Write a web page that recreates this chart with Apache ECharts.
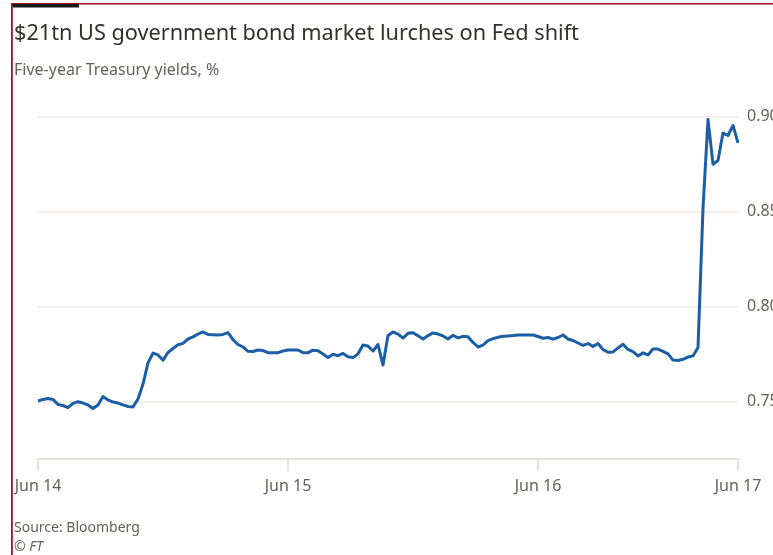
<!DOCTYPE html>
<html>
<head>
<meta charset="utf-8">
<script src="https://cdn.jsdelivr.net/npm/echarts@6/dist/echarts.min.js"></script>
<style>
html,body{margin:0;padding:0;background:#fff;}
#chart{width:773px;height:555px;}
</style>
</head>
<body>
<div id="chart"></div>
<script>
// Five-year Treasury yields, %, sampled evenly from Jun 14 to Jun 17
const yields = [
  0.7504,0.7512,0.7517,0.7512,0.7485,0.7480,0.7469,0.7491,0.7500,0.7493,
  0.7483,0.7464,0.7483,0.7527,0.7509,0.7498,0.7493,0.7483,0.7475,0.7472,
  0.7514,0.7593,0.7704,0.7756,0.7746,0.7719,0.7759,0.7780,0.7800,0.7807,
  0.7830,0.7841,0.7856,0.7867,0.7854,0.7853,0.7851,0.7854,0.7864,0.7827,
  0.7801,0.7788,0.7765,0.7764,0.7772,0.7769,0.7758,0.7758,0.7758,0.7767,
  0.7772,0.7772,0.7772,0.7758,0.7758,0.7771,0.7768,0.7751,0.7733,0.7750,
  0.7742,0.7754,0.7737,0.7732,0.7752,0.7798,0.7793,0.7767,0.7801,0.7693,
  0.7848,0.7867,0.7856,0.7835,0.7860,0.7863,0.7847,0.7830,0.7848,0.7862,
  0.7856,0.7846,0.7830,0.7850,0.7836,0.7844,0.7842,0.7812,0.7788,0.7798,
  0.7821,0.7832,0.7839,0.7844,0.7846,0.7848,0.7851,0.7851,0.7851,0.7851,
  0.7843,0.7834,0.7838,0.7829,0.7838,0.7851,0.7830,0.7822,0.7809,0.7796,
  0.7806,0.7791,0.7806,0.7775,0.7760,0.7762,0.7783,0.7802,0.7775,0.7764,
  0.7741,0.7757,0.7746,0.7777,0.7777,0.7765,0.7752,0.7719,0.7717,0.7723,
  0.7735,0.7741,0.7785,0.8519,0.8985,0.8750,0.8769,0.8914,0.8901,0.8954,
  0.8862
];
// Tick labels and the sample index at which each sits
const tickLabels = ["Jun 14", "Jun 15", "Jun 16", "Jun 17"];
const tickIndex = [0, 50, 100, 140];
const yTicks = [0.75, 0.80, 0.85, 0.90];

const categories = yields.map((_, i) => i);
const labelAt = {};
tickIndex.forEach((t, k) => { labelAt[t] = tickLabels[k]; });

const chart = echarts.init(document.getElementById('chart'), null, {renderer: 'canvas'});
const gray = '#66605c';
const fontFam = '"Noto Sans", sans-serif';

chart.setOption({
  backgroundColor: '#ffffff',
  animation: false,
  title: [
    {
      text: '$21tn US government bond market lurches on Fed shift',
      left: 14, top: 23, padding: 0,
      textStyle: {fontFamily: fontFam, fontSize: 21.7, fontWeight: 'normal', color: '#33302e'}
    },
    {
      text: 'Five-year Treasury yields, %',
      left: 14, top: 62, padding: 0,
      textStyle: {fontFamily: fontFam, fontSize: 16, fontWeight: 'normal', color: gray}
    },
    {
      text: 'Source: Bloomberg',
      left: 14, top: 521, padding: 0,
      textStyle: {fontFamily: fontFam, fontSize: 14, fontWeight: 'normal', color: gray}
    },
    {
      text: '© FT',
      left: 14, top: 540, padding: 0,
      textStyle: {fontFamily: fontFam, fontSize: 14, fontWeight: 'normal', fontStyle: 'italic', color: gray}
    }
  ],
  grid: {left: 38, right: 35, top: 116.7, bottom: 58.3, containLabel: false, outerBoundsMode: 'none'},
  xAxis: {
    type: 'category',
    data: categories,
    boundaryGap: false,
    offset: -37.7,
    axisLine: {show: true, lineStyle: {color: '#e6e0dc', width: 2}},
    axisTick: {
      show: true, length: 12,
      interval: (idx) => labelAt[idx] !== undefined,
      lineStyle: {color: '#e6e0dc', width: 2}
    },
    axisLabel: {
      show: true,
      interval: (idx) => labelAt[idx] !== undefined,
      formatter: (v, idx) => labelAt[idx] || '',
      margin: 19,
      color: gray, fontFamily: fontFam, fontSize: 16
    },
    splitLine: {show: false}
  },
  yAxis: {
    type: 'value',
    position: 'right',
    min: 0.70, max: 0.90, interval: 0.05,
    axisLine: {show: false},
    axisTick: {show: false},
    axisLabel: {
      showMinLabel: false,
      margin: 9,
      color: gray, fontFamily: fontFam, fontSize: 16,
      formatter: (v) => yTicks.some(t => Math.abs(t - v) < 1e-6) ? v.toFixed(2) : ''
    },
    splitLine: {show: true, showMinLine: false, lineStyle: {color: '#f1e9e6', width: 1.5}}
  },
  series: [{
    type: 'line',
    data: yields,
    showSymbol: false,
    smooth: false,
    lineStyle: {color: '#1b5ea5', width: 3, join: 'round'},
    itemStyle: {color: '#1b5ea5'}
  }],
  graphic: [
    {type: 'rect', shape: {x: 11, y: 3, width: 762, height: 1.6}, style: {fill: '#a0141e'}, silent: true},
    {type: 'rect', shape: {x: 11, y: 3, width: 1.8, height: 552}, style: {fill: '#a0141e'}, silent: true},
    {type: 'rect', shape: {x: 12.5, y: 4, width: 66.5, height: 3.5}, style: {fill: '#1a1a1a'}, silent: true}
  ]
});
</script>
</body>
</html>
